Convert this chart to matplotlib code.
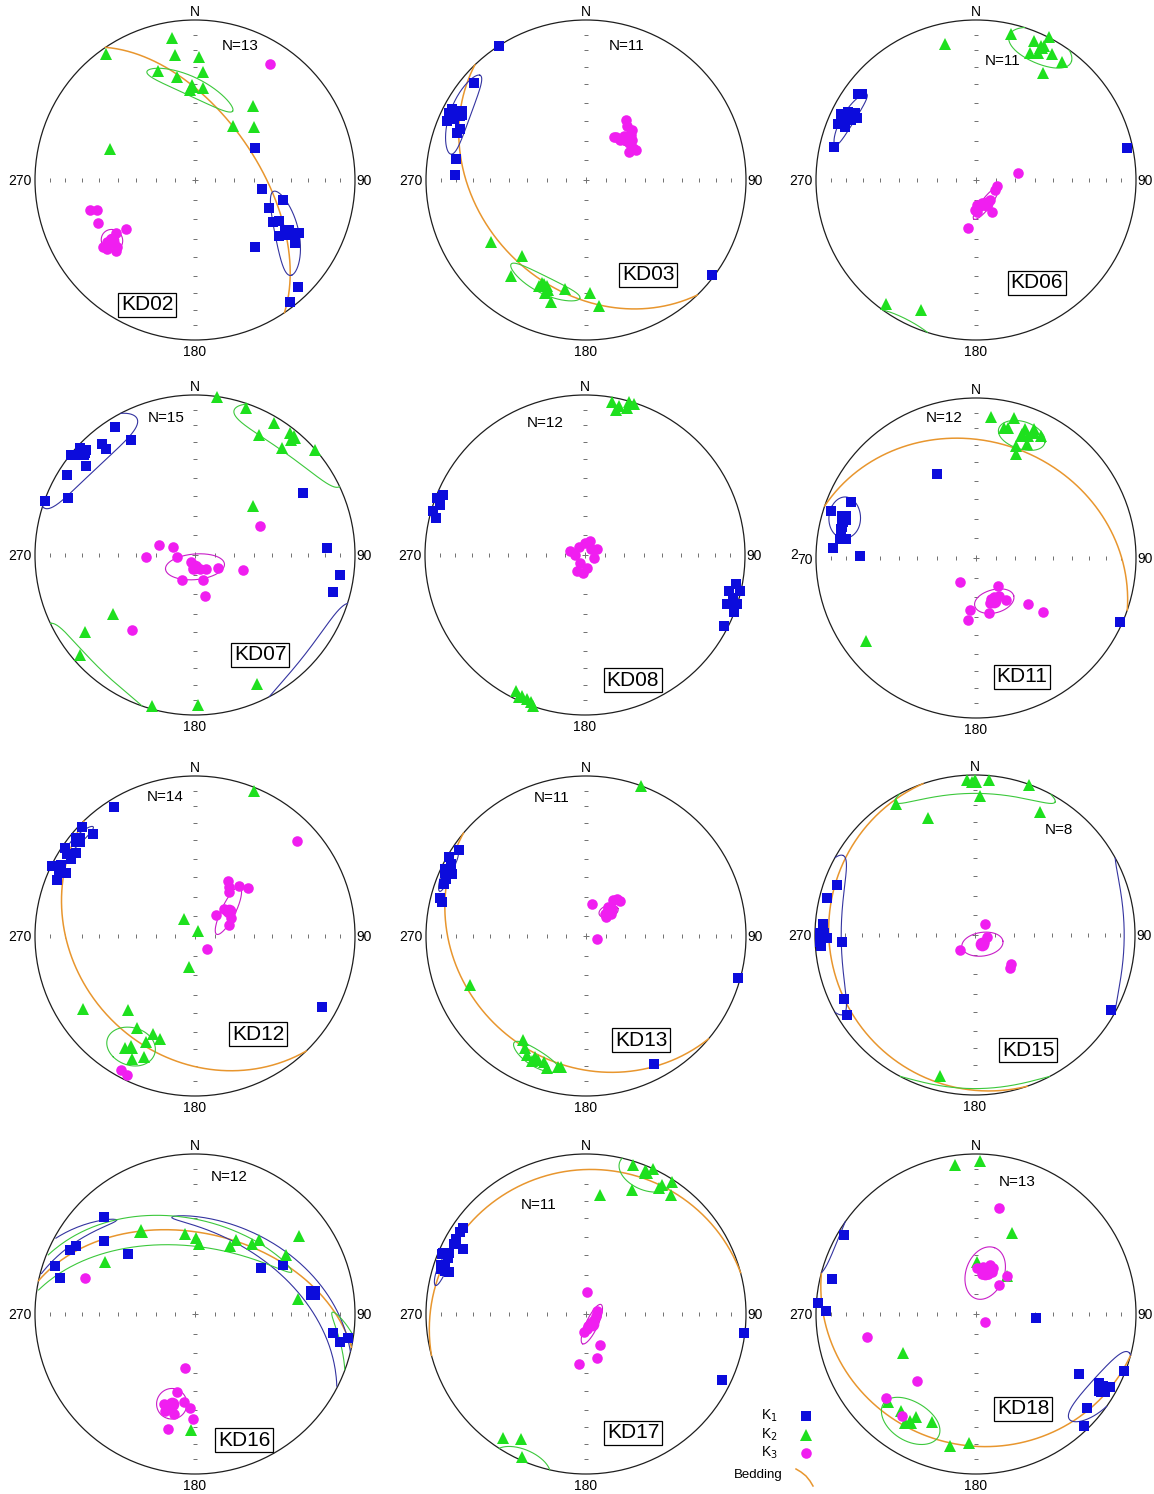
import numpy as np
import matplotlib
matplotlib.use("Agg")
import matplotlib.pyplot as plt
from matplotlib.collections import LineCollection

plt.rcParams['font.family'] = ['Liberation Sans', 'DejaVu Sans']

# principal axes, (trend, plunge) in degrees
KD02_K1 = [(62, 55), (98, 55), (103, 43), (111, 49), (118, 44), (116, 41), (124, 37), (118, 34), (117, 28),
           (122, 27), (138, 43), (136, 8), (142, 4)]
KD02_K2 = [(351, 11), (325, 4), (351, 22), (2, 24), (341, 29), (4, 33), (350, 35), (357, 43), (5, 42), (38, 41),
           (35, 56), (48, 49), (290, 43)]
KD02_K3 = [(33, 15), (254, 32), (253, 36), (246, 34), (235, 46), (236, 40), (235, 36), (232, 36), (234, 30),
           (232, 31), (228, 34), (235, 33), (229, 36)]

KD03_K1 = [(327, 0), (311, 8), (296, 5), (298, 9), (293, 6), (295, 10), (297, 13), (292, 16), (290, 15), (279, 19),
           (272, 19), (127, 2), (298, 6)]
KD03_K2 = [(237, 30), (220, 38), (218, 25), (203, 31), (204, 28), (200, 30), (200, 26), (191, 31), (196, 22),
           (178, 30), (174, 22), (199, 28)]
KD03_K3 = [(34, 53), (37, 55), (43, 55), (35, 63), (41, 60), (40, 63), (49, 59), (56, 61), (57, 64), (59, 60),
           (49, 61), (45, 57), (33, 64)]

KD06_K1 = [(306, 9.5), (307, 12), (296, 7), (298, 10.5), (294, 10.5), (297.5, 17.5), (292, 12.5), (292, 8),
           (297, 14), (283, 9.5), (78, 4), (296, 10.5), (299, 14.5)]
KD06_K2 = [(347, 14), (13.5, 7), (22.6, 6.5), (27, 0), (23, 15), (26, 13), (31, 9), (36, 9.5), (32, 22.5),
           (216, 5), (203, 13), (27, 7)]
KD06_K3 = [(80, 68.5), (106, 79), (118, 79), (145, 77.5), (155, 77), (154, 72), (178, 77.5), (182, 74.5),
           (178, 73.5), (189, 65), (165, 78), (171.5, 76.5)]

KD07_K1 = [(328, 6.5), (331, 19), (313, 2), (314, 6), (320, 10), (320, 14.5), (309, 0.5), (310, 3), (313, 7),
           (309, 13), (302, 6), (294, 14), (290, 0.5), (60, 23), (87, 18.5), (98, 9.5), (105, 12)]
KD07_K2 = [(8, 0), (19, 3), (31, 4), (28, 16), (38, 4), (40, 7), (39, 15), (49, 0.5), (50, 51), (234, 37),
           (235, 17.5), (229, 5.6), (154.5, 11.5), (196, 2), (179, 7)]
KD07_K3 = [(66, 53.5), (285, 71), (289, 78), (264, 81), (268, 65), (207, 86), (187, 83), (159, 82.5), (141, 81),
           (120, 76.5), (107, 64.5), (207, 76), (162, 76.5), (166, 68.5), (220, 39)]

KD08_K1 = [(293, 4), (291, 1), (289, 4.5), (286, 1), (284, 4.5), (101, 4.5), (104, 8), (103, 0.5), (106, 4),
           (109, 7), (108, 0), (111, 0), (117, 2.5)]
KD08_K2 = [(10, 3), (13, 5), (18, 1), (16, 5), (12, 8), (16, 0.5), (207, 5), (204, 4), (202, 3.5), (200, 2.5),
           (205, 2), (199, 0)]
KD08_K3 = [(0, 84), (324, 85), (45, 86), (270, 85), (286, 82), (107, 85), (212, 85), (171, 83.5), (208, 81),
           (18, 82.5), (62, 83), (186, 81)]

KD11_K1 = [(335, 41.5), (294, 15.5), (288, 5.5), (287, 16), (285, 15), (282, 15), (278, 15), (278.5, 19),
           (274, 11.5), (271, 28.5), (114, 2), (283, 15)]
KD11_K2 = [(6, 12.5), (15, 10), (12, 18), (14, 17.5), (21, 15), (24, 12.5), (28, 15), (23, 18), (19.5, 26.5),
           (24, 23), (21, 31), (233, 15), (25, 15)]
KD11_K3 = [(214, 75.5), (142, 72), (160, 68), (156, 68), (149, 67.5), (145, 63.5), (163, 66), (131.5, 54.5),
           (129, 45), (167, 61), (187, 63), (187, 58)]

KD12_K1 = [(328, 5.6), (314, 2.5), (315, 10.5), (304, 2), (302.5, 5.5), (305, 10.5), (302, 9.5), (296, 1),
           (298, 6), (295, 7), (296, 11.5), (292, 8), (119, 10)]
KD12_K2 = [(22, 2.5), (327, 80), (35, 87), (191, 74), (237, 17.5), (222, 37.5), (212.5, 32.5), (203, 34),
           (199, 32.5), (205, 28), (212, 18.5), (207, 15), (203, 19)]
KD12_K3 = [(47, 14), (31, 57), (35, 59.5), (41.5, 56), (48, 53), (38, 61.5), (52, 69.5), (46, 75), (63, 69.5),
           (72, 72), (138, 81), (209, 5), (206, 4), (47, 69.5)]

KD13_K1 = [(304, 4.5), (300, 1.5), (298, 5), (295, 3), (295, 8.5), (292, 6), (290, 6), (284.5, 6.5), (283.5, 8.5),
           (105.6, 1.5), (152, 10.5)]
KD13_K2 = [(20, 0), (247, 22.5), (211, 25), (208.6, 21.5), (206.5, 18), (203.4, 16), (198.3, 18), (196.6, 15),
           (192, 17.5), (190.8, 17.5), (201, 18)]
KD13_K3 = [(10, 73.5), (39.6, 65.5), (36.8, 67), (44.7, 65), (37.6, 71.5), (43.5, 71), (41.2, 75), (48.7, 73),
           (47, 76), (107, 84)]

KD15_K1 = [(290, 9), (284, 5.5), (274, 5), (270, 4.5), (269, 8), (267.5, 3.5), (266, 4), (267, 18), (244, 10),
           (238, 6.5), (119, 3.5)]
KD15_K2 = [(357, 3.5), (359, 5), (5, 3), (20, 0.5), (2, 14), (329, 5), (338, 22), (28, 14), (194, 10)]
KD15_K3 = [(42, 82.5), (101, 84), (127, 84.5), (225, 79.5), (128.5, 66.5), (134, 65.5), (139, 84.5)]

KD16_K1 = [(317, 18), (308.5, 28), (300, 15.5), (297, 13.5), (289, 8), (285, 14), (312, 43), (55, 48.5),
           (61, 37.5), (98, 14), (101, 8.5), (99, 3.5)]
KD16_K2 = [(353, 48), (1, 50.5), (3, 54), (27, 50.5), (29, 46), (39.5, 43), (41, 38.5), (53, 20), (57, 32.5),
           (300, 35), (82, 35), (182, 28.5)]
KD16_K3 = [(288, 28.5), (190, 62), (193, 48.5), (187, 44), (199, 40), (195, 40), (192, 36), (183, 41),
           (181, 34.5), (193, 27), (197, 36.5)]

KD17_K1 = [(305, 6.5), (303, 6.5), (300, 7), (298, 14), (293, 3), (294, 7), (292, 7.5), (292.6, 3), (287, 9),
           (287, 11.5), (97, 0.5), (116, 6), (298, 7)]
KD17_K2 = [(17.6, 2.5), (24.8, 0), (22.4, 3.5), (33, 1.5), (30.4, 7), (30, 10), (20.5, 18.5), (35.7, 9.5),
           (6.7, 26), (214, 7.5), (207.5, 13), (204, 2.5)]
KD17_K3 = [(1.5, 79), (73, 84), (102, 85), (130, 85), (152, 84.5), (171, 84), (185, 81), (156, 73), (166.5, 67),
           (188, 64), (167, 83.5), (178, 82.5)]

KD18_K1 = [(301, 4.5), (283.5, 8), (274, 1.5), (271, 7), (93.5, 59), (120, 26.5), (111, 1), (119.5, 13),
           (119.5, 10), (118.5, 5.5), (122, 10), (130.5, 10), (136, 3)]
KD18_K2 = [(352, 6.5), (1.5, 5), (24, 44), (1.5, 63.5), (39.4, 65), (242, 47), (225, 23), (217.5, 24.5),
           (213, 20), (210, 26.5), (202, 28), (191, 17), (183, 20.5)]
KD18_K3 = [(12.4, 32.5), (1, 66.5), (8.8, 65.5), (16, 64), (20, 65), (8.3, 69.5), (16.5, 69), (20.7, 67),
           (11.8, 67), (39.7, 65), (38.6, 71), (134, 84), (258, 31), (221, 43.5), (227, 24), (216, 22)]

# confidence ellipses: axis, mean trend, mean plunge, semi-angle a, semi-angle b, azimuth of a (deg from dip line)
KD02_CONF = [("K1", 120, 34, 22, 6, 40), ("K2", 358, 41, 23, 5, 122), ("K3", 234, 36, 6, 5, 0)]
KD03_CONF = [("K1", 298, 12, 17, 6.5, 76), ("K2", 202, 30, 17, 5, -84), ("K3", 45, 60, 4, 3, 0)]
KD06_CONF = [("K1", 296, 12.5, 12, 4, -80), ("K2", 26, 8, 13, 11, 79), ("K3", 157, 77, 10, 2.5, 60)]
KD07_CONF = [("K1", 312, 5.5, 25, 13.5, -80), ("K2", 40, 4, 25, 12, 80), ("K3", 180, 84, 15, 6.5, 85)]
KD08_CONF = []
KD11_CONF = [("K1", 287, 15, 10.5, 8, 15), ("K2", 20.5, 19, 10, 8.5, 80), ("K3", 157, 66, 10, 6, -81)]
KD12_CONF = [("K1", 309.5, 6, 7.6, 2.7, -77.5), ("K2", 210, 21, 12, 10, 20), ("K3", 53, 68.5, 13.5, 3.5, -26)]
KD13_CONF = [("K1", 295, 5, 8, 3, 90), ("K2", 202.6, 18.5, 11, 5, -74), ("K3", 42.5, 73, 5, 3, 30)]
KD15_CONF = [("K1", 270, 5, 31, 12.5, 90), ("K2", 0, 4, 31, 8.5, 90), ("K3", 141, 84, 10.5, 6, -59)]
KD16_CONF = [("K1", 80, 26, 77, 6, 54), ("K2", 327, 38, 76, 8, 123), ("K3", 194.5, 41.5, 8.5, 7, 0)]
KD17_CONF = [("K1", 288, 6.5, 7.4, 3, -76), ("K2", 23, 4, 10.5, 12, 90), ("K3", 150, 84, 11, 3, 55)]
KD18_CONF = [("K1", 121, 8, 18, 9, -68), ("K2", 211.5, 22, 13.5, 12, 88), ("K3", 12.5, 68.5, 14, 9.5, 7.5)]

# bedding planes: (dip direction, dip)
KD02_BED = (56, 58)
KD03_BED = (226, 34)
KD11_BED = (19, 28)
KD12_BED = (226, 27)
KD13_BED = (220, 22)
KD15_BED = (251, 10)
KD16_BED = (12, 48)
KD17_BED = (345, 11)
KD18_BED = (195, 19)

SITES = ["KD02", "KD03", "KD06", "KD07", "KD08", "KD11", "KD12", "KD13", "KD15", "KD16", "KD17", "KD18"]
N_SAMPLES = [13, 11, 11, 15, 12, 12, 14, 11, 8, 12, 11, 13]

K1 = dict(zip(SITES, [KD02_K1, KD03_K1, KD06_K1, KD07_K1, KD08_K1, KD11_K1, KD12_K1, KD13_K1, KD15_K1,
                      KD16_K1, KD17_K1, KD18_K1]))
K2 = dict(zip(SITES, [KD02_K2, KD03_K2, KD06_K2, KD07_K2, KD08_K2, KD11_K2, KD12_K2, KD13_K2, KD15_K2,
                      KD16_K2, KD17_K2, KD18_K2]))
K3 = dict(zip(SITES, [KD02_K3, KD03_K3, KD06_K3, KD07_K3, KD08_K3, KD11_K3, KD12_K3, KD13_K3, KD15_K3,
                      KD16_K3, KD17_K3, KD18_K3]))
CONF = dict(zip(SITES, [KD02_CONF, KD03_CONF, KD06_CONF, KD07_CONF, KD08_CONF, KD11_CONF, KD12_CONF,
                        KD13_CONF, KD15_CONF, KD16_CONF, KD17_CONF, KD18_CONF]))
BED = {"KD02": KD02_BED, "KD03": KD03_BED, "KD11": KD11_BED, "KD12": KD12_BED, "KD13": KD13_BED,
       "KD15": KD15_BED, "KD16": KD16_BED, "KD17": KD17_BED, "KD18": KD18_BED}

# net centre (px), offset of the N= text, offset of the site label
LAYOUT = {
    "KD02": (195, 180, 45, -134, -48, 125),
    "KD03": (586, 180, 41, -134, 62, 95),
    "KD06": (976, 180, 27, -119, 61, 103),
    "KD07": (195, 555, -29, -137, 65, 100),
    "KD08": (585, 555, -40, -132, 48, 125),
    "KD11": (976, 558, -32, -140, 46, 119),
    "KD12": (195, 936, -30, -139, 63, 98),
    "KD13": (586, 936, -34, -138, 55, 104),
    "KD15": (975, 935, 84, -105, 53, 115),
    "KD16": (195, 1314, 34, -137, 49, 126),
    "KD17": (586, 1314, -47, -109, 47, 119),
    "KD18": (976, 1314, 41, -132, 47, 95),
}
R = 160

STYLE = {
    "K1": dict(marker='s', color='#0c0cdc', ms=7.5),
    "K2": dict(marker='^', color='#1ee01e', ms=8.2),
    "K3": dict(marker='o', color='#f01ef0', ms=7.6),
}
ELL_COLOR = {"K1": '#3434a0', "K2": '#3cc83c', "K3": '#c81ec8'}
BED_COLOR = '#e8962e'


def to_vec(trend, plunge):
    t, p = np.radians(trend), np.radians(plunge)
    return np.array([np.cos(p) * np.sin(t), np.cos(p) * np.cos(t), np.sin(p)])


def project(v):
    # lower hemisphere, equal area (Schmidt)
    v = np.where(v[2] < 0, -v, v)
    h = np.hypot(v[0], v[1])
    h = np.where(h == 0, 1, h)
    r = np.sqrt(np.clip(1 - v[2], 0, None))
    return r * v[0] / h, r * v[1] / h


def to_px(v, cx, cy):
    x, y = project(v)
    return cx + R * x, cy - R * y


def break_jumps(px, py):
    jump = np.where(np.hypot(np.diff(px), np.diff(py)) > 0.4 * R)[0] + 1
    return np.insert(px, jump, np.nan), np.insert(py, jump, np.nan)


def cone(trend, plunge, a, b, phi, n=720):
    t, p = np.radians(trend), np.radians(plunge)
    m = to_vec(trend, plunge)
    e1 = np.array([np.sin(p) * np.sin(t), np.sin(p) * np.cos(t), -np.cos(p)])
    e2 = np.array([np.cos(t), -np.sin(t), 0.0])
    ph = np.radians(phi)
    u = np.cos(ph) * e1 + np.sin(ph) * e2
    w = -np.sin(ph) * e1 + np.cos(ph) * e2
    th = np.linspace(0, 2 * np.pi, n)
    A, B = np.radians(a), np.radians(b)
    rho = A * B / np.sqrt((B * np.cos(th)) ** 2 + (A * np.sin(th)) ** 2)
    return (np.cos(rho) * m[:, None]
            + np.sin(rho) * (np.cos(th) * u[:, None] + np.sin(th) * w[:, None]))


def great_circle(dipdir, dip):
    s = to_vec(dipdir - 90, 0)
    d = to_vec(dipdir, dip)
    al = np.linspace(0, np.pi, 300)
    return np.cos(al) * s[:, None] + np.sin(al) * d[:, None]


TICK_R = np.sqrt(2) * np.sin(np.radians(np.arange(10, 90, 10)) / 2)

fig = plt.figure(figsize=(11.54, 14.94), dpi=100)
ax = fig.add_axes([0, 0, 1, 1])
ax.set_xlim(0, 1154)
ax.set_ylim(1494, 0)
ax.axis('off')

for site, n in zip(SITES, N_SAMPLES):
    cx, cy, ndx, ndy, ldx, ldy = LAYOUT[site]

    ax.add_patch(plt.Circle((cx, cy), R, fill=False, ec='#1e1e1e', lw=0.9, zorder=2))
    segs = [[(cx - 3, cy), (cx + 3, cy)], [(cx, cy - 3), (cx, cy + 3)]]
    for r in TICK_R:
        for s in (-1, 1):
            segs.append([(cx + s * r * R, cy - 2), (cx + s * r * R, cy + 2)])
            segs.append([(cx - 2, cy + s * r * R), (cx + 2, cy + s * r * R)])
    ax.add_collection(LineCollection(segs, colors='#707070', lw=0.7, zorder=1))

    ax.text(cx, cy - 168, "N", ha='center', va='center', fontsize=10)
    ax.text(cx, cy + 172, "180", ha='center', va='center', fontsize=10)
    ax.text(cx + 161, cy + 1, "90", ha='left', va='center', fontsize=10)
    if site == "KD11":
        ax.text(cx - 163, cy + 2, "70", ha='right', va='center', fontsize=10)
        ax.text(cx - 178, cy - 3, "2", ha='right', va='center', fontsize=10)
    else:
        ax.text(cx - 163, cy + 1, "270", ha='right', va='center', fontsize=10)

    ax.text(cx + ndx, cy + ndy, f"N={n}", ha='center', va='center', fontsize=11)
    ax.text(cx + ldx, cy + ldy, site, ha='center', va='center', fontsize=15, zorder=6,
            bbox=dict(boxstyle='square,pad=0.12', fc='white', ec='black', lw=0.9))

    if site in BED:
        px, py = to_px(great_circle(*BED[site]), cx, cy)
        ax.plot(px, py, color=BED_COLOR, lw=1.1, zorder=3)

    for key, tr, pl, a, b, phi in CONF[site]:
        px, py = break_jumps(*to_px(cone(tr, pl, a, b, phi), cx, cy))
        ax.plot(px, py, color=ELL_COLOR[key], lw=0.8, zorder=3)

    for key, pts in (("K1", K1[site]), ("K2", K2[site]), ("K3", K3[site])):
        st = STYLE[key]
        v = np.array([to_vec(t, p) for t, p in pts]).T
        px, py = to_px(v, cx, cy)
        ax.plot(px, py, ls='none', marker=st['marker'], ms=st['ms'], mfc=st['color'],
                mec=st['color'], mew=0, zorder=4)
    for key, tr, pl, a, b, phi in CONF[site]:
        st = STYLE[key]
        px, py = to_px(to_vec(tr, pl)[:, None], cx, cy)
        ax.plot(px, py, ls='none', marker=st['marker'], ms=st['ms'] * 1.3, mfc=st['color'],
                mec=st['color'], mew=0, zorder=5)

# legend
for i, key in enumerate(["K1", "K2", "K3"]):
    y = 1416 + i * 18.5
    st = STYLE[key]
    ax.text(778, y, f"K$_{key[1]}$", ha='right', va='center', fontsize=10)
    ax.plot([806], [y], ls='none', marker=st['marker'], ms=st['ms'], mfc=st['color'], mec=st['color'], mew=0)
ax.text(783, 1475, "Bedding", ha='right', va='center', fontsize=9.5)
ax.plot([796, 801, 806, 810, 813], [1469, 1472, 1476, 1481, 1486], color=BED_COLOR, lw=1.1)

fig.savefig("out.png", dpi=100)
